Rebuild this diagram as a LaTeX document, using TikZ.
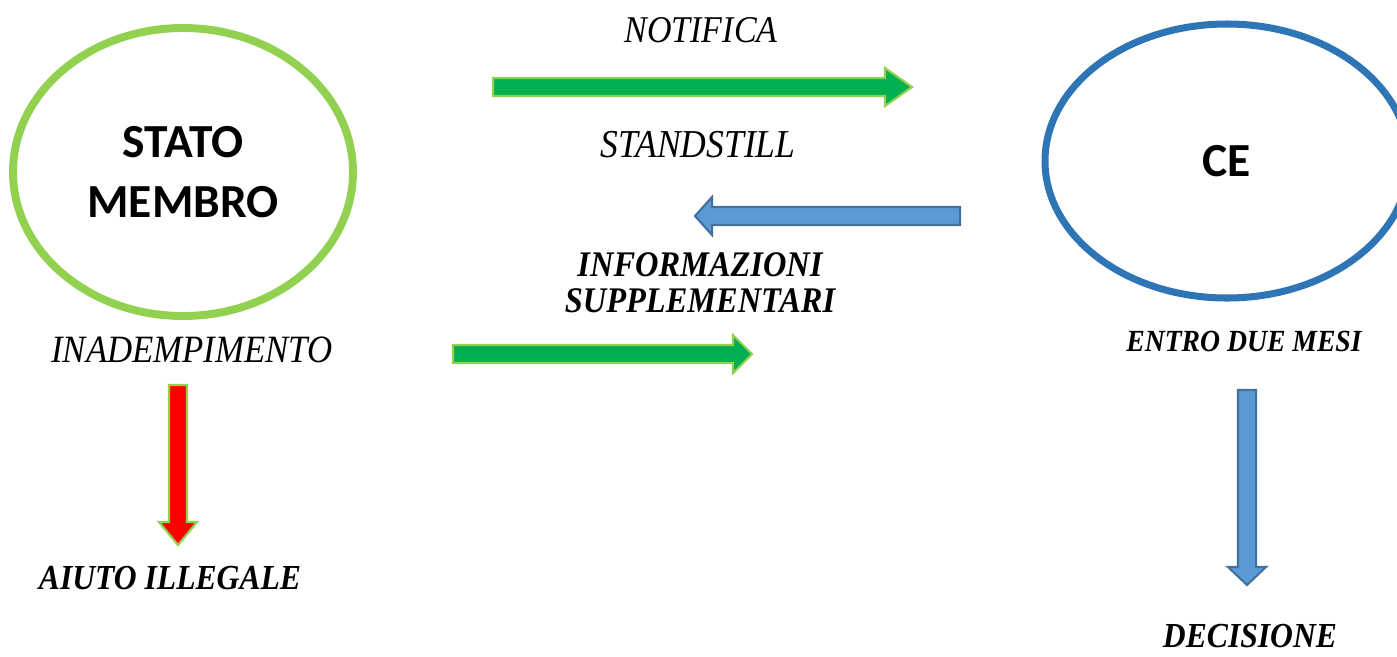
\documentclass[tikz,border=0pt]{standalone}
\usepackage{fontspec}
\setsansfont{Carlito}
\newfontfamily\labelfont[FakeStretch=0.9]{Liberation Serif}
\usepackage{tikz}
\usetikzlibrary{shapes.geometric, calc}

\definecolor{verdeScuro}{HTML}{00B050}
\definecolor{verdeChiaro}{HTML}{92D050}
\definecolor{bluBordo}{HTML}{2E75B6}
\definecolor{bluFreccia}{HTML}{5B9BD5}
\definecolor{bluContorno}{HTML}{41719C}

% freccia piena: stile, inizio, punta, lunghezza della testa
\newcommand{\frecciapiena}[4]{%
  \coordinate (hb) at ($(#3)!#4!(#2)$);
  \draw[#1] ($(#2)!\sw!90:(#3)$) -- ($(hb)!\sw!90:(#3)$) -- ($(hb)!\hw!90:(#3)$) -- (#3)
    -- ($(hb)!\hw!-90:(#3)$) -- ($(hb)!\sw!-90:(#3)$) -- ($(#2)!\sw!-90:(#3)$) -- cycle;
}

\begin{document}
\begin{tikzpicture}[
    every node/.style={inner sep=0pt},
    testo/.style={font=\labelfont\itshape\fontsize{21.5}{24}\selectfont},
    testob/.style={font=\labelfont\bfseries\itshape\fontsize{20}{22}\selectfont},
    ovale/.style={ellipse, font=\sffamily\bfseries\fontsize{27}{34}\selectfont, align=center},
    fverde/.style={fill=verdeScuro, draw=verdeChiaro, line width=1.2pt, line join=miter},
    fblu/.style={fill=bluFreccia, draw=bluContorno, line width=1.2pt, line join=miter},
    frossa/.style={fill=red, draw=verdeChiaro, line width=1.2pt, line join=miter},
  ]
    \def\sw{0.18cm}                          % mezza larghezza del fusto
    \def\hw{0.38cm}                          % mezza larghezza della testa

    \useasboundingbox (0, 0) rectangle (27.94, -13.12);

    % i due attori
    \node[ovale, draw=verdeChiaro, line width=4.5pt, minimum width=6.8cm, minimum height=5.76cm]
      (stato) at (3.66, -3.44) {STATO\\MEMBRO};
    \node[ovale, draw=bluBordo, line width=4pt, minimum width=7.28cm, minimum height=5.48cm,
      font=\sffamily\bfseries\fontsize{27}{30}\selectfont]
      (ce) at (24.54, -3.22) {CE};

    % etichette
    \node[testo] (notifica) at (14.02, -0.6) {NOTIFICA};
    \node[testo, font=\labelfont\itshape\fontsize{22.5}{24}\selectfont]
      (standstill) at (13.96, -2.9) {STANDSTILL};
    \node[testob, align=center, font=\labelfont\bfseries\itshape\fontsize{20.5}{20.5}\selectfont]
      (info) at (14.0, -5.66) {INFORMAZIONI\\SUPPLEMENTARI};
    \node[testo, font=\labelfont\itshape\fontsize{22}{24}\selectfont]
      (inadempimento) at (3.84, -7.0) {INADEMPIMENTO};
    \node[testob] (aiuto) at (3.4, -11.56) {AIUTO ILLEGALE};
    \node[testob, font=\labelfont\bfseries\itshape\fontsize{17.5}{18}\selectfont]
      (entro) at (24.88, -6.82) {ENTRO DUE MESI};
    \node[testob] (decisione) at (25.0, -12.72) {DECISIONE};

    % estremi delle frecce
    \coordinate (notifica-a) at (9.86, -1.74);
    \coordinate (notifica-b) at (18.24, -1.74);
    \coordinate (info-a) at (19.2, -4.32);
    \coordinate (info-b) at (13.9, -4.32);
    \coordinate (risposta-a) at (9.06, -7.08);
    \coordinate (risposta-b) at (15.04, -7.08);
    \coordinate (aiuto-a) at (3.56, -7.7);
    \coordinate (aiuto-b) at (3.56, -10.9);
    \coordinate (decisione-a) at (24.94, -7.8);
    \coordinate (decisione-b) at (24.94, -11.7);

    % frecce
    \frecciapiena{fverde}{notifica-a}{notifica-b}{0.54cm}
    \frecciapiena{fblu}{info-a}{info-b}{0.34cm}
    \frecciapiena{fverde}{risposta-a}{risposta-b}{0.38cm}
    \frecciapiena{frossa}{aiuto-a}{aiuto-b}{0.46cm}
    \frecciapiena{fblu}{decisione-a}{decisione-b}{0.36cm}
  \end{tikzpicture}
\end{document}
